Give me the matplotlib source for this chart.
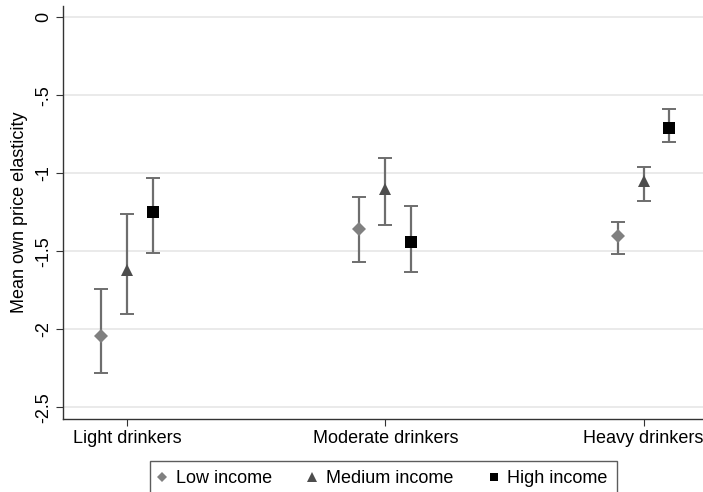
import matplotlib
matplotlib.use("Agg")
import matplotlib.pyplot as plt
import numpy as np

plt.rcParams['font.family'] = ['Liberation Sans', 'DejaVu Sans']

categories = ["Light drinkers", "Moderate drinkers", "Heavy drinkers"]
series = ["Low income", "Medium income", "High income"]
means = {
    "Low income":    [-2.04, -1.36, -1.40],
    "Medium income": [-1.62, -1.10, -1.05],
    "High income":   [-1.25, -1.44, -0.71],
}
upper = {
    "Low income":    [-1.74, -1.15, -1.31],
    "Medium income": [-1.26, -0.90, -0.96],
    "High income":   [-1.03, -1.21, -0.59],
}
lower = {
    "Low income":    [-2.28, -1.57, -1.52],
    "Medium income": [-1.90, -1.33, -1.18],
    "High income":   [-1.51, -1.63, -0.80],
}
yticks = [0, -0.5, -1, -1.5, -2, -2.5]
ytick_labels = ["0", "-.5", "-1", "-1.5", "-2", "-2.5"]

markers = {"Low income": "D", "Medium income": "^", "High income": "s"}
msizes = {"Low income": 7, "Medium income": 9, "High income": 8}
colors = {"Low income": "#808080", "Medium income": "#4d4d4d", "High income": "#000000"}
offsets = {"Low income": -0.1, "Medium income": 0.0, "High income": 0.1}

fig = plt.figure(figsize=(7.03, 4.92), dpi=100)
ax = fig.add_axes([63/703, 1-419/492, 640/703, 413/492])

x = np.arange(1, len(categories)+1)
for s in series:
    m = np.array(means[s]); u = np.array(upper[s]); l = np.array(lower[s])
    xs = x + offsets[s]
    ax.errorbar(xs, m, yerr=[m - l, u - m], fmt='none', ecolor='#6e6e6e',
                elinewidth=1.6, capsize=5, capthick=1.4, zorder=2)
    ax.plot(xs, m, linestyle='none', marker=markers[s], markersize=msizes[s],
            color=colors[s], markeredgewidth=0, zorder=3, label=s)

ax.set_xlim(0.752, 3.23)
ax.set_ylim(-2.575, 0.072)
ax.set_yticks(yticks)
ax.set_yticklabels(ytick_labels, rotation=90, va='center')
ax.set_xticks(x)
ax.set_xticklabels(categories)
ax.tick_params(axis='both', labelsize=13, length=5, width=0.8, color='#333333', pad=3)
ax.set_ylabel("Mean own price elasticity", fontsize=13, labelpad=5)
ax.grid(axis='y', color='#e6e6e6', linewidth=1.2)
ax.set_axisbelow(True)
for sp in ['top', 'right']:
    ax.spines[sp].set_visible(False)
for sp in ['left', 'bottom']:
    ax.spines[sp].set_color('#333333')
    ax.spines[sp].set_linewidth(1.0)

leg = fig.legend(loc='upper left', bbox_to_anchor=(150/703, 1-461/492), ncol=3,
                 frameon=True, fancybox=False, fontsize=13, handletextpad=0.6,
                 columnspacing=2.1, borderpad=0.52, handlelength=0.3,
                 borderaxespad=0, markerscale=0.8)
leg.get_frame().set_edgecolor('#333333')
leg.get_frame().set_linewidth(1.0)

fig.savefig("out.png", dpi=100)
